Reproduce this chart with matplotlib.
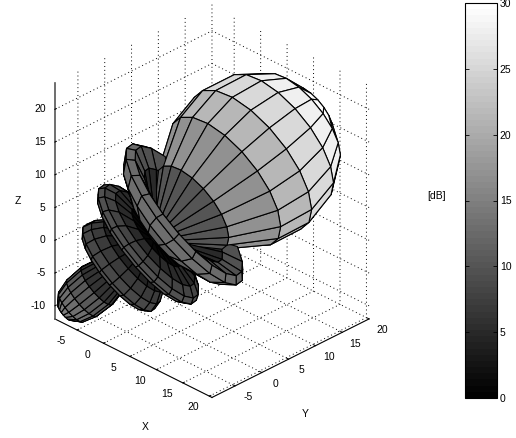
import numpy as np
import matplotlib
matplotlib.use("Agg")
import matplotlib.pyplot as plt
from matplotlib.cm import ScalarMappable
from matplotlib.colors import Normalize
from mpl_toolkits.mplot3d import proj3d

# pattern cuts: angle from the axis and gain there
beam_deg = [0, 8, 16, 24, 32, 38, 43, 47, 50]
beam_db = [30, 29.6, 28.2, 25.5, 21.5, 17, 10, 3, 1]
side_deg = [50, 53, 56, 60, 65, 70, 74, 77, 80, 84, 88, 92, 96, 100, 104, 108, 112,
            116, 120, 125, 130, 135, 140, 144, 148, 151, 154, 158, 162, 166, 170, 175, 180]
side_db = [1, 5, 9.5, 12.5, 13, 11, 7, 3, 1, 5, 8, 9.5, 10, 9.5, 7.5, 4, 1,
           4, 7, 8.5, 9.5, 9.5, 9, 7, 4, 2, 1, 6, 10.5, 13, 14.8, 15.8, 16]
beam_dir = [0.053, 0.952, 0.30]
side_dir = [0.48, 0.58, 0.66]
x_ticks = [-5, 0, 5, 10, 15, 20]
y_ticks = [-5, 0, 5, 10, 15, 20]
z_ticks = [-10, -5, 0, 5, 10, 15, 20]
cbar_ticks = [0, 5, 10, 15, 20, 25, 30]

plt.rcParams["font.family"] = ["Liberation Sans", "DejaVu Sans"]
plt.rcParams["font.size"] = 7.5
plt.rcParams["axes.unicode_minus"] = False
plt.rcParams["grid.color"] = "k"
plt.rcParams["grid.linestyle"] = (0, (1, 3))
plt.rcParams["grid.linewidth"] = 0.7


def sheet(deg, db, axis_dir, psi):
    a = np.array(axis_dir) / np.linalg.norm(axis_dir)
    e1 = np.cross(a, [0, 0, 1])
    e1 = e1 / np.linalg.norm(e1)
    e2 = np.cross(a, e1)
    A, P = np.meshgrid(np.radians(deg), psi, indexing="ij")
    R = np.repeat(np.array(db, dtype=float)[:, None], len(psi), axis=1)
    pts = [R * (np.cos(A) * a[i] + np.sin(A) * (np.cos(P) * e1[i] + np.sin(P) * e2[i])) for i in range(3)]
    return pts, R


psi = np.radians(np.arange(0, 361, 18))
(xb, yb, zb), rb = sheet(beam_deg, beam_db, beam_dir, psi)
(xs, ys, zs), rs = sheet(side_deg, side_db, side_dir, psi)
X = np.vstack([xb, xs])
Y = np.vstack([yb, ys])
Z = np.vstack([zb, zs])
R = np.vstack([rb, rs])

norm = Normalize(0, 30)
fig = plt.figure(figsize=(5.16, 4.38), dpi=100)
S = 420
ax = fig.add_axes([-3.7 / 516, 21.3 / 438, S / 516, S / 438], projection="3d")
ax.set_proj_type("ortho")
ax.view_init(elev=30, azim=-45)
ax.set_box_aspect((222, 222, 272), zoom=403.6 / S)
ax.plot_surface(X, Y, Z, facecolors=plt.cm.gray(norm(R)), rstride=1, cstride=1, shade=False,
                edgecolor="k", linewidth=0.8)
xlo, xhi = -9.2, 20.5
ylo, yhi = -9.3, 20
zlo, zhi = -12, 24
ax.set_xlim(xlo, xhi)
ax.set_ylim(ylo, yhi)
ax.set_zlim(zlo, zhi)
ax.set_xticks(x_ticks)
ax.set_yticks(y_ticks)
ax.set_zticks(z_ticks)
ax.zaxis.set_ticks_position("lower")
for axis in (ax.xaxis, ax.yaxis, ax.zaxis):
    axis.pane.set_visible(False)
    axis.line.set_color("k")
    axis.line.set_linewidth(0.8)
    axis._axinfo["tick"]["inward_factor"] = 0.0
    axis._axinfo["tick"]["outward_factor"] = 0.12
    axis._axinfo["tick"]["linewidth"] = {True: 0.7, False: 0.5}
    axis.set_tick_params(label1On=False, label2On=False)
ax.zaxis.line.set_color("#555555")
ax.zaxis.line.set_linewidth(1.2)


def label3d(x, y, z, s, ha="center"):
    # tick labels sit closer to the axes than mplot3d puts them
    px, py, _ = proj3d.proj_transform(x, y, z, ax.get_proj())
    ax.text2D(px, py, s, ha=ha, va="center", transform=ax.transData)


for t in x_ticks:
    label3d(t, ylo - 3, zlo - 0.5, str(t))
for t in y_ticks:
    label3d(xhi + 2.5, t, zlo - 0.7, str(t))
for t in z_ticks:
    label3d(xlo - 0.85, ylo - 0.85, t, str(t), ha="right")
fig.text(145 / 516, 1 - 427 / 438, "X", ha="center", va="center")
fig.text(305 / 516, 1 - 414 / 438, "Y", ha="center", va="center")
fig.text(18 / 516, 1 - 201 / 438, "Z", ha="center", va="center")

cax = fig.add_axes([465 / 516, 1 - 398 / 438, 32 / 516, 395 / 438])
cb = fig.colorbar(ScalarMappable(norm, plt.get_cmap("gray", 64)), cax=cax, ticks=cbar_ticks)
cax.tick_params(axis="y", which="both", left=True, right=True, direction="in", length=3, width=0.6, pad=2)
cb.outline.set_linewidth(0.8)
fig.text(437 / 516, 1 - 196 / 438, "[dB]", ha="center", va="center")

fig.savefig("out.png", dpi=100)
